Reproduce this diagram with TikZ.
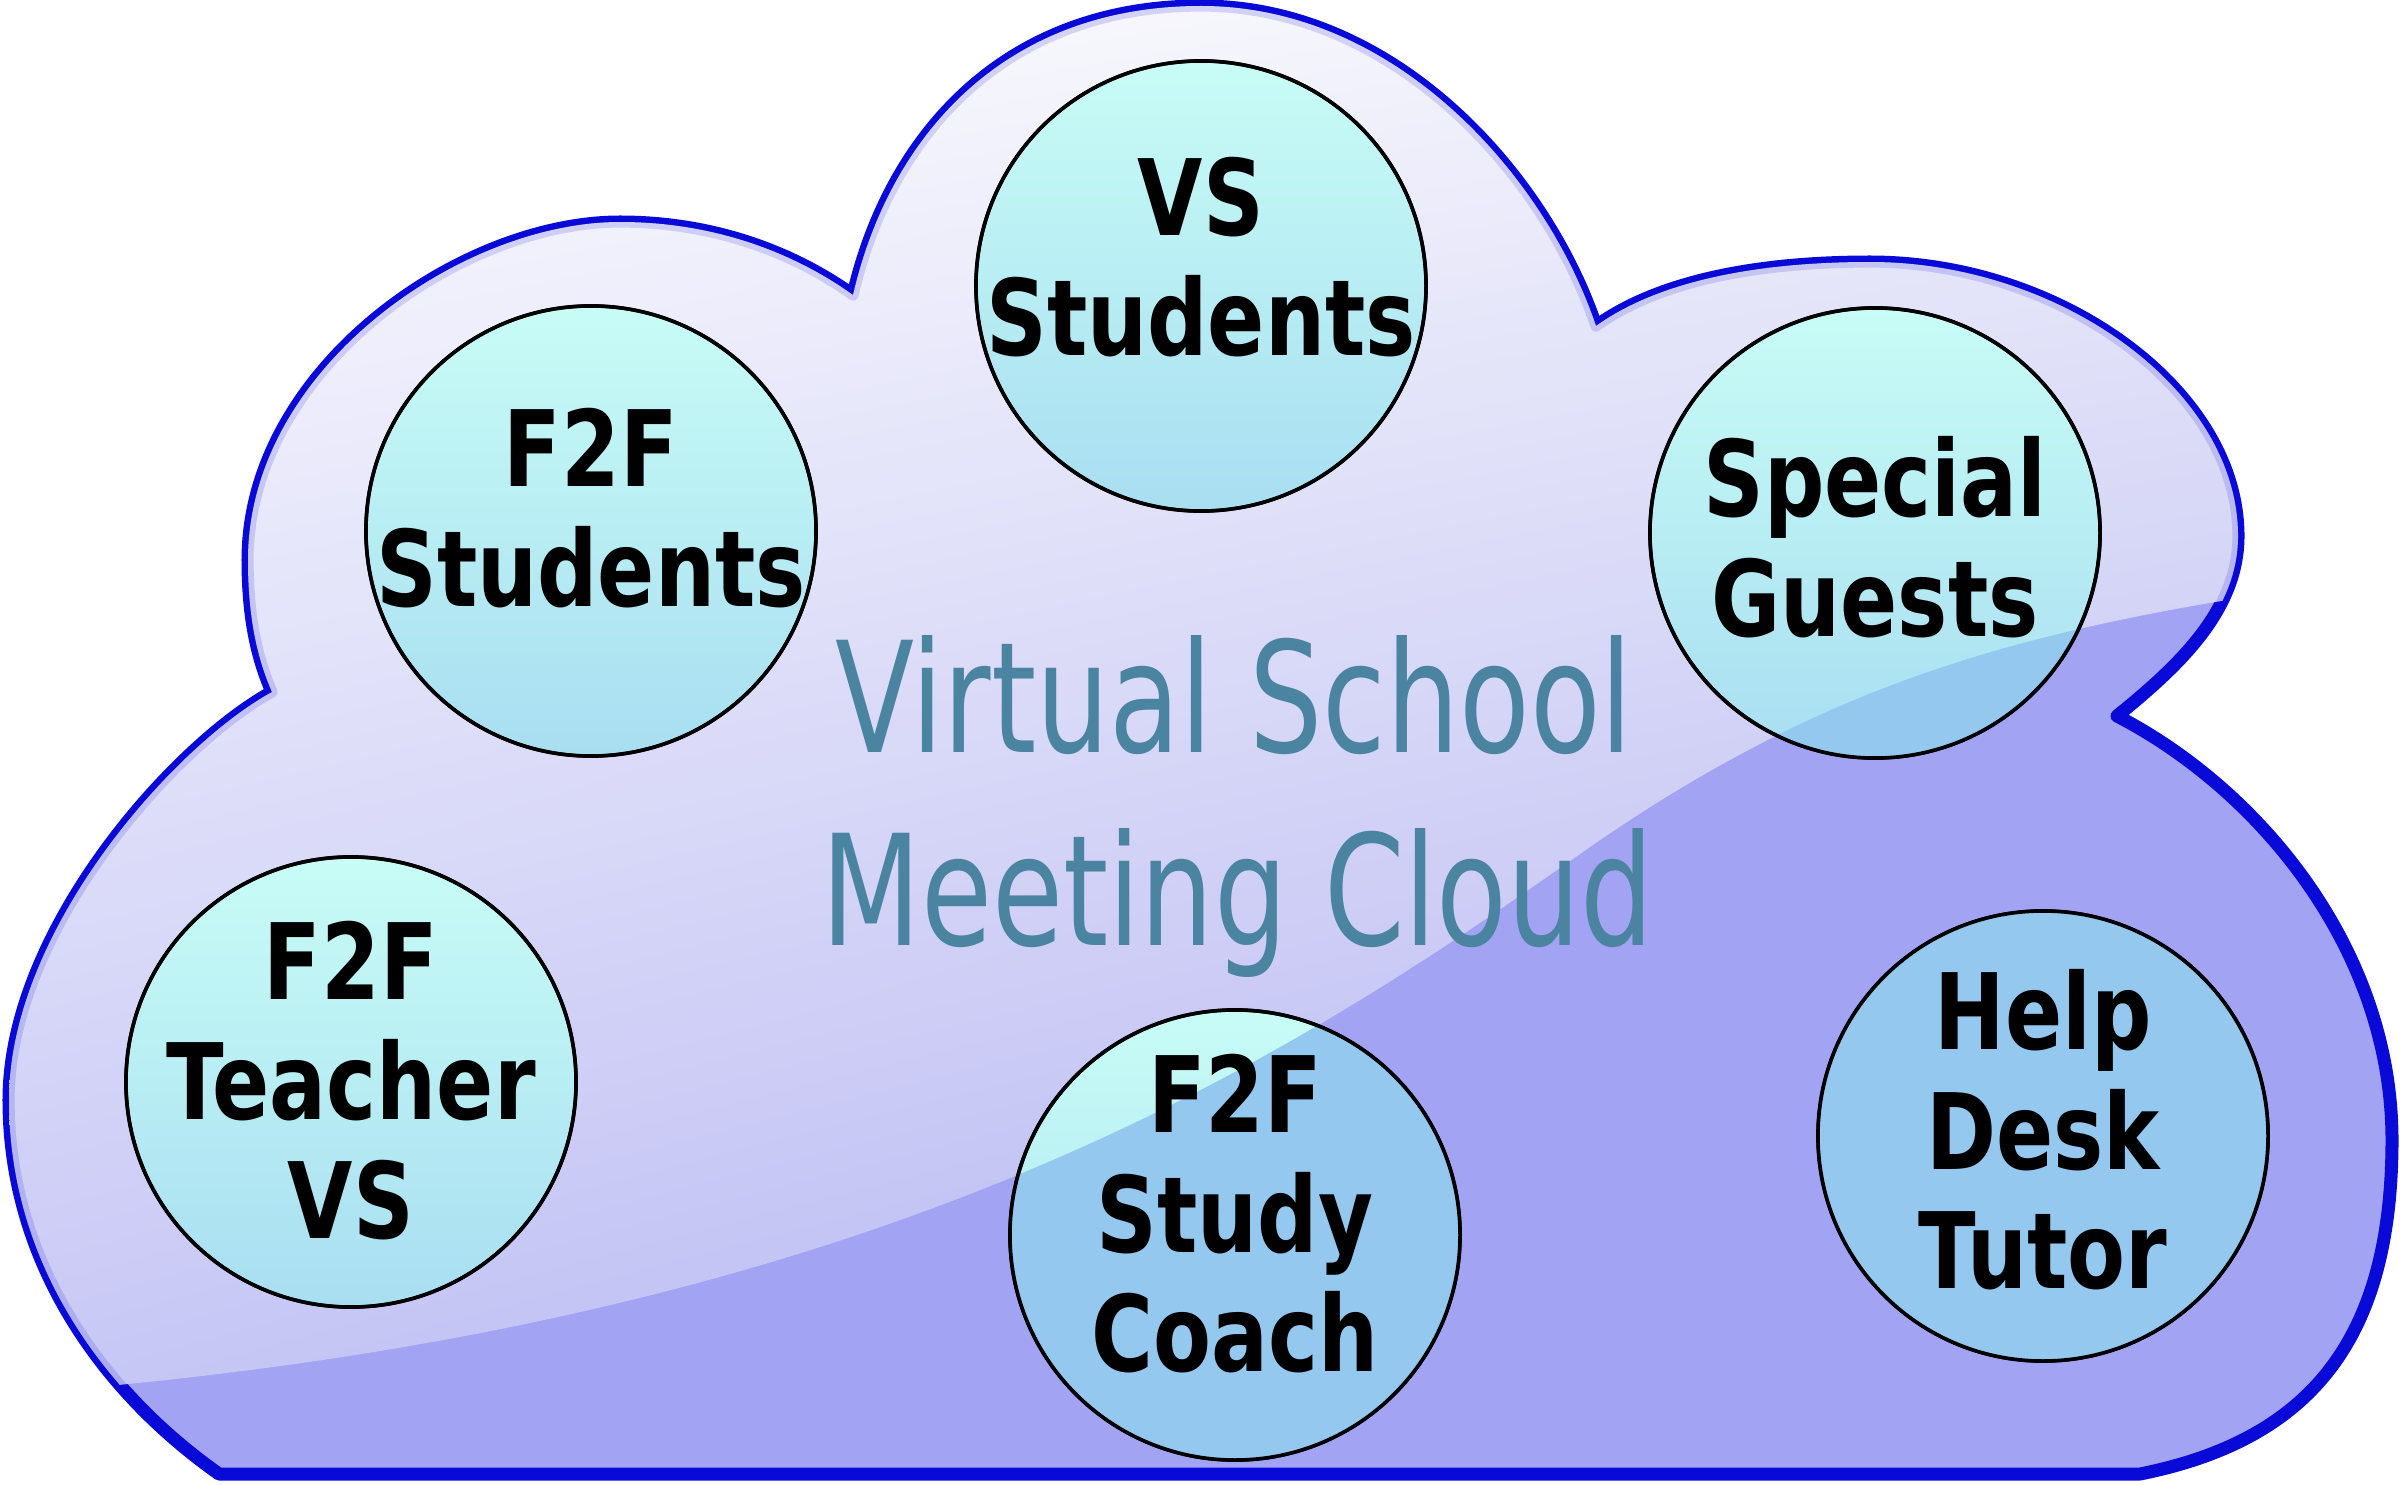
\documentclass[tikz,border=0pt]{standalone}
\usepackage{fontspec}
\usetikzlibrary{shadings}
\newfontfamily\circfont[FakeStretch=0.8]{DejaVu Sans}
\newfontfamily\titlefont[FakeStretch=0.75]{DejaVu Sans}
\definecolor{cloudblue}{HTML}{0A0AD8}
\definecolor{lowfill}{HTML}{A3A3F3}
\definecolor{circtop}{HTML}{C8FCF6}
\definecolor{circbot}{HTML}{A8DEF1}
\definecolor{circlow}{HTML}{95C8EF}
\definecolor{titlecol}{HTML}{4A84A0}
\definecolor{cul}{HTML}{FFFFFF}
\definecolor{cur}{HTML}{EEEEFA}
\definecolor{cll}{HTML}{C4C4F5}
\definecolor{clr}{HTML}{A8A8F0}
\def\cloudpath{(219,1474) -- (2140,1474)
 .. controls (2310,1440) and (2392,1340) .. (2392,1140)
 .. controls (2392,950) and (2260,790) .. (2117,716)
 .. controls (2180,665) and (2238,610) .. (2238,536)
 .. controls (2238,390) and (2060,262) .. (1870,262)
 .. controls (1760,262) and (1660,280) .. (1596,326)
 .. controls (1545,175) and (1395,6) .. (1201,6)
 .. controls (1005,6) and (890,135) .. (853,295)
 .. controls (790,250) and (710,222) .. (620,222)
 .. controls (460,222) and (248,370) .. (248,560)
 .. controls (248,620) and (258,660) .. (272,692)
 .. controls (175,745) and (9,930) .. (9,1100)
 .. controls (9,1260) and (100,1390) .. (219,1474) -- cycle}
\def\lowregion{(0,1395) .. controls (900,1330) and (1300,1050) .. (1600,840) .. controls (1850,670) and (2050,620) .. (2400,575) -- (2400,1485) -- (0,1485) -- cycle}
\def\highregion{(0,1395) .. controls (900,1330) and (1300,1050) .. (1600,840) .. controls (1850,670) and (2050,620) .. (2400,575) -- (2400,0) -- (0,0) -- cycle}
\tikzset{
  member/.style={circle, draw=black, line width=1pt, minimum size=4.5cm, inner sep=0pt, top color=circtop, bottom color=circbot},
  ctext/.style={font=\circfont\bfseries\fontsize{30}{34}\selectfont, align=center, inner sep=0pt, text=black},
  ttext/.style={font=\titlefont\fontsize{43.8}{50}\selectfont, inner sep=0pt, text=titlecol, anchor=base},
  cloudline/.style={draw=cloudblue, line width=3.7pt, line join=round},
  halo/.style={draw=cloudblue, draw opacity=0.15, line width=3.2pt, line join=round}
}
\begin{document}
\begin{tikzpicture}[x=0.01cm,y=-0.01cm]
\useasboundingbox (0,0) rectangle (2400,1485);
% cloud body and outline
\fill[lowfill] \cloudpath;
\path[cloudline] \cloudpath;
% glossy upper highlight
\begin{scope}
  \clip \cloudpath;
  \clip \highregion;
  \shade[upper left=cul, upper right=cur, lower left=cll, lower right=clr] (0,0) rectangle (2400,1485);
  \path[halo] \cloudpath;
\end{scope}
% circles
\node[member] (c1) at (1201,286) {};
\node[member] (c2) at (591,531) {};
\node[member] (c3) at (1875,533) {};
\node[member] (c4) at (351,1082) {};
\node[member] (c5) at (1235,1235) {};
\node[member] (c6) at (2043,1136) {};
\begin{scope}
  \clip \lowregion;
  \foreach \n in {c1,c2,c3,c4,c5,c6} \fill[circlow] (\n.center) circle[radius=225];
\end{scope}
\foreach \n in {c1,c2,c3,c4,c5,c6} \draw[black, line width=1pt] (\n.center) circle[radius=225];
% circle texts
\node[ctext] (t1) at (1201,257) {VS\\Students};
\node[ctext] (t2) at (591,508) {F2F\\Students};
\node[ctext] (t3) at (1875,537) {Special\\Guests};
\node[ctext] (t4) at (351,1081) {F2F\\Teacher\\VS};
\node[ctext] (t5) at (1235,1214) {F2F\\Study\\Coach};
\node[ctext] (t6) at (2043,1130) {Help\\Desk\\Tutor};
% title
\node[ttext] (title1) at (1234,752) {Virtual School};
\node[ttext] (title2) at (1238,945) {Meeting Cloud};
\end{tikzpicture}
\end{document}
